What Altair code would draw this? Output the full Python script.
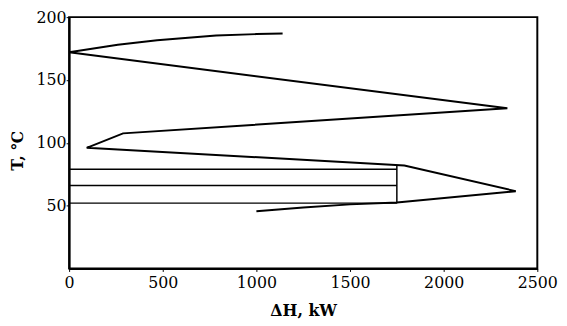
import altair as alt
import pandas as pd

# Grand composite curve points (ΔH kW, T ℃), in drawing order
gcc_dh = [1140, 1000, 785, 470, 260, 0, 2340, 288, 94, 1790, 2385, 1750, 1500, 1250, 1000]
gcc_t = [187, 186.5, 185.3, 181.6, 178, 172, 127.5, 107.5, 96, 82, 61.5, 52.5, 51, 48.5, 45.5]

# Heat pocket horizontal lines
pocket_t = [79, 66, 52]
pocket_x0 = [0, 0, 0]
pocket_x1 = [1750, 1750, 1750]

# Vertical closing line of the pocket
vert_x = [1750]
vert_t0 = [52]
vert_t1 = [82.2]

x_ticks = [0, 500, 1000, 1500, 2000, 2500]
y_ticks = [50, 100, 150, 200]

gcc = pd.DataFrame({"dh": gcc_dh, "t": gcc_t, "i": list(range(len(gcc_dh)))})
hl = pd.DataFrame({"x0": pocket_x0, "x1": pocket_x1, "t": pocket_t})
vl = pd.DataFrame({"x": vert_x, "t0": vert_t0, "t1": vert_t1})

FONT = "DejaVu Serif"

xscale = alt.Scale(domain=[0, 2500], nice=False)
yscale = alt.Scale(domain=[0, 200], nice=False)

xaxis = alt.Axis(values=x_ticks, title="ΔH, kW", grid=False, tickSize=3, format="d",
                 labelPadding=3, titleY=43, titleBaseline="middle",
                 labelFont=FONT, titleFont=FONT, labelFontSize=16, titleFontSize=16,
                 labelColor="black", titleColor="black", titleFontWeight="bold",
                 domainColor="black", tickColor="black", domainWidth=2, labelFlush=False)
yaxis = alt.Axis(values=y_ticks, title="T, ℃", grid=False, tickSize=3, format="d",
                 labelPadding=0, titleX=-52, titleY=135, titleBaseline="middle",
                 labelFont=FONT, titleFont=FONT, labelFontSize=16, titleFontSize=16,
                 labelColor="black", titleColor="black", titleFontWeight="bold",
                 domainColor="black", tickColor="black", domainWidth=2)

line = alt.Chart(gcc).mark_line(color="black", strokeWidth=2).encode(
    x=alt.X("dh:Q", scale=xscale, axis=xaxis),
    y=alt.Y("t:Q", scale=yscale, axis=yaxis),
    order="i:Q",
)

hrules = alt.Chart(hl).mark_rule(color="black", strokeWidth=1.5).encode(
    x=alt.X("x0:Q", scale=xscale),
    x2="x1:Q",
    y=alt.Y("t:Q", scale=yscale),
)

vrule = alt.Chart(vl).mark_rule(color="black", strokeWidth=1.5).encode(
    x=alt.X("x:Q", scale=xscale),
    y=alt.Y("t0:Q", scale=yscale),
    y2="t1:Q",
)

chart = alt.layer(hrules, vrule, line).properties(
    width=475, height=255,
    autosize=alt.AutoSizeParams(type="none"),
    padding={"left": 62, "top": 7, "right": 22, "bottom": 50},
    background="white",
).configure_view(stroke="black", strokeWidth=2)

chart.save("out.html", embed_options={"renderer": "svg", "actions": False})
